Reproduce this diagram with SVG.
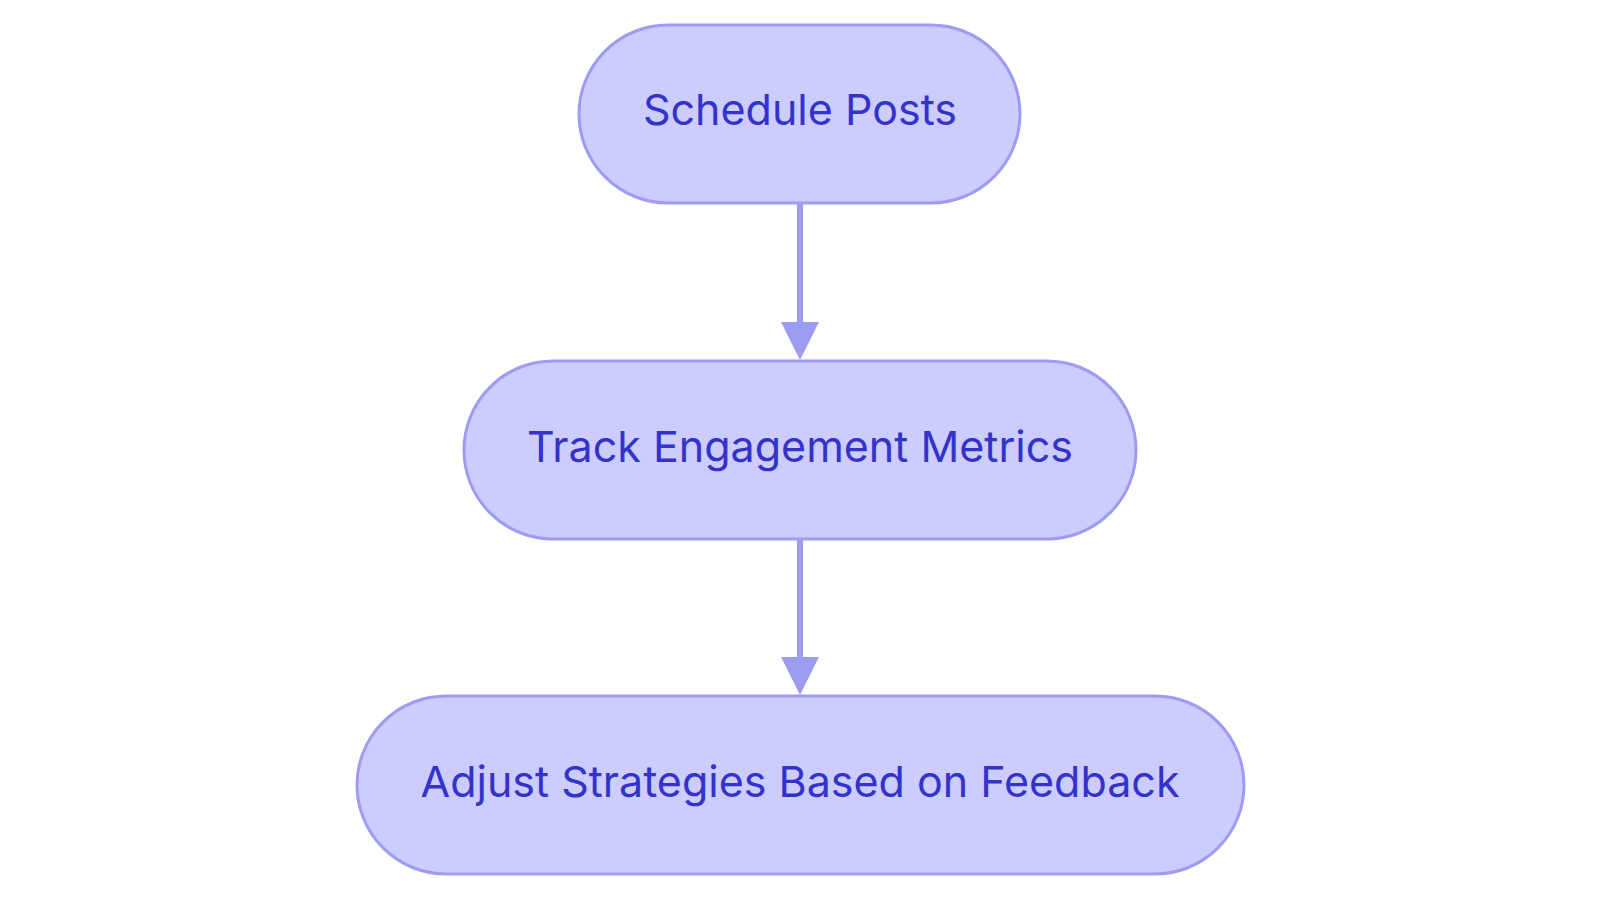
<svg xmlns="http://www.w3.org/2000/svg" width="1600" height="903" viewBox="0 0 1600 903">
<style>
.node rect{fill:#ccccff;stroke:#9c9cf0;stroke-width:3}
.node text{font-family:Inter,"Noto Sans",sans-serif;font-size:43px;fill:#3333cc;text-anchor:middle;dominant-baseline:central}
.edge{stroke:#9c9cf0;stroke-width:6;fill:none}
</style>
<defs>
<marker id="arrow" markerUnits="userSpaceOnUse" viewBox="0 0 38 38" refX="1" refY="19" markerWidth="38" markerHeight="38" orient="auto">
<path d="M0,0 L38,19 L0,38 Z" fill="#9c9cf0"/>
</marker>
</defs>
<rect width="1600" height="903" fill="#ffffff"/>
<g id="connectors">
<line class="edge" x1="800" y1="203" x2="800" y2="323" marker-end="url(#arrow)"/>
<line class="edge" x1="800" y1="539" x2="800" y2="658" marker-end="url(#arrow)"/>
</g>
<g id="node-schedule" class="node">
<rect x="579" y="25" width="441" height="178" rx="89" ry="89"/>
<text x="800" y="109">Schedule Posts</text>
</g>
<g id="node-track" class="node">
<rect x="464" y="361" width="672" height="178" rx="89" ry="89"/>
<text x="800" y="446">Track Engagement Metrics</text>
</g>
<g id="node-adjust" class="node">
<rect x="357" y="696" width="887" height="178" rx="89" ry="89"/>
<text x="800" y="781">Adjust Strategies Based on Feedback</text>
</g>
</svg>
